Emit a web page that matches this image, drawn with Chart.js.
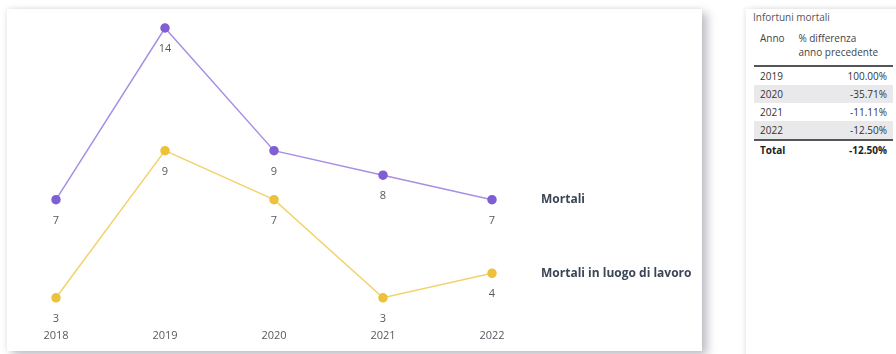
<!DOCTYPE html>
<html lang="it">
<head>
<meta charset="utf-8">
<script src="https://cdn.jsdelivr.net/npm/chart.js@4/dist/chart.umd.min.js"></script>
<style>
  body { margin: 0; width: 896px; height: 354px; background: #fff; overflow: hidden; position: relative; font-family: "Open Sans", "Noto Sans", sans-serif; }
  .card { position: absolute; background: #fff; box-shadow: 5px 4px 9px rgba(60, 64, 80, 0.35), -1px -1px 4px rgba(0,0,0,0.06); }
  #chartCard { left: 7px; top: 9px; width: 695px; height: 342px; }
  #tableCard { left: 746px; top: 9px; width: 160px; height: 360px; }
  .tTitle { position: absolute; left: 7px; top: 1px; font-size: 10px; color: #555; }
  table { position: absolute; left: 8px; top: 20px; width: 139px; border-collapse: collapse; font-size: 10px; color: #333; }
  th { font-weight: normal; text-align: left; vertical-align: top; padding: 2px 0 6px 6px; line-height: 14px; border-bottom: 2px solid #555; color: #444; }
  th.second { padding-left: 0; }
  td { height: 18px; padding: 0 6px; line-height: 18px; }
  td.v { text-align: right; }
  tr.alt td { background: #e9e9eb; }
  tr.total td { font-weight: bold; border-top: 2px solid #555; color: #222; }
</style>
</head>
<body>
<div class="card" id="chartCard"><canvas id="myChart" width="695" height="342"></canvas></div>
<div class="card" id="tableCard">
  <div class="tTitle">Infortuni mortali</div>
  <table id="diffTable"></table>
</div>
<script>
const years = ['2018', '2019', '2020', '2021', '2022']
const mortali = [7, 14, 9, 8, 7]
const mortaliLuogo = [3, 9, 7, 3, 4]

const tableYears = ['2019', '2020', '2021', '2022']
const tableDiff = ['100.00%', '-35.71%', '-11.11%', '-12.50%']
const tableTotal = '-12.50%'

const purple = '#7f5fd3'
const purpleLine = '#a88fe4'
const yellow = '#edc13a'
const yellowLine = '#f2d26a'

// value under each point + series name after the last point
const lineLabels = {
  id: 'lineLabels',
  afterDatasetsDraw(chart) {
    const ctx = chart.ctx
    ctx.save()
    chart.data.datasets.forEach((ds, i) => {
      const meta = chart.getDatasetMeta(i)
      ctx.font = '11px "Open Sans", sans-serif'
      ctx.fillStyle = '#555a60'
      ctx.textAlign = 'center'
      ctx.textBaseline = 'middle'
      meta.data.forEach((pt, j) => {
        ctx.fillText(ds.data[j], pt.x, pt.y + 21)
      })
      const last = meta.data[meta.data.length - 1]
      ctx.font = 'bold 12px "Open Sans", sans-serif'
      ctx.fillStyle = '#3b4656'
      ctx.textAlign = 'left'
      ctx.fillText(ds.label, last.x + 49, last.y)
    })
    ctx.restore()
  }
}

new Chart(document.getElementById('myChart'), {
  type: 'line',
  data: {
    labels: years,
    datasets: [{
      label: 'Mortali',
      data: mortali,
      borderColor: purpleLine,
      backgroundColor: purple,
      pointBackgroundColor: purple,
      pointBorderColor: purple,
      borderWidth: 1.5,
      pointRadius: 4,
      clip: false
    }, {
      label: 'Mortali in luogo di lavoro',
      data: mortaliLuogo,
      borderColor: yellowLine,
      backgroundColor: yellow,
      pointBackgroundColor: yellow,
      pointBorderColor: yellow,
      borderWidth: 1.5,
      pointRadius: 4,
      clip: false
    }]
  },
  options: {
    responsive: false,
    devicePixelRatio: 1,
    animation: false,
    layout: { padding: { left: 49, right: 210, top: 19, bottom: -22 } },
    plugins: { legend: { display: false }, tooltip: { enabled: false } },
    scales: {
      x: {
        offset: false,
        grid: { display: false, drawTicks: false },
        border: { display: false },
        ticks: { padding: 31, color: '#555a60', font: { size: 11, family: '"Open Sans", sans-serif' } }
      },
      y: { display: false, min: 3, max: 14 }
    }
  },
  plugins: [lineLabels]
})

function buildTable() {
  let html = '<tr><th>Anno</th><th class="second">% differenza<br>anno precedente</th></tr>'
  tableYears.forEach((y, i) => {
    html += `<tr class="${i % 2 ? 'alt' : ''}"><td>${y}</td><td class="v">${tableDiff[i]}</td></tr>`
  })
  html += `<tr class="total"><td>Total</td><td class="v">${tableTotal}</td></tr>`
  document.getElementById('diffTable').innerHTML = html
}
buildTable()
</script>
</body>
</html>
